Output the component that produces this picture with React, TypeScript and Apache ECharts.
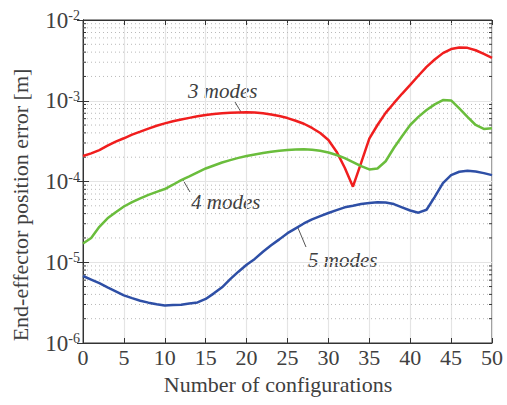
import React, { useEffect, useRef } from "react";
import * as echarts from "echarts";

// Number of configurations (x)
const configs: number[] = Array.from({ length: 51 }, (_, i) => i);

// End-effector position error [m] for each mode count
const err3Modes: number[] = [
  2.07e-4, 2.23e-4, 2.45e-4, 2.78e-4, 3.11e-4, 3.43e-4, 3.8e-4, 4.14e-4, 4.52e-4, 4.9e-4,
  5.25e-4, 5.56e-4, 5.86e-4, 6.14e-4, 6.41e-4, 6.67e-4, 6.84e-4, 6.98e-4, 7.1e-4, 7.16e-4,
  7.19e-4, 7.13e-4, 6.98e-4, 6.76e-4, 6.46e-4, 6.1e-4, 5.66e-4, 5.19e-4, 4.6e-4, 3.98e-4,
  3.27e-4, 2.34e-4, 1.48e-4, 8.63e-5, 1.7e-4, 3.39e-4, 5.01e-4, 7.08e-4, 9.33e-4, 1.22e-3,
  1.57e-3, 2.04e-3, 2.63e-3, 3.24e-3, 3.89e-3, 4.37e-3, 4.57e-3, 4.52e-3, 4.22e-3, 3.8e-3,
  3.39e-3,
];

const err4Modes: number[] = [
  1.71e-5, 2.0e-5, 2.75e-5, 3.5e-5, 4.17e-5, 4.9e-5, 5.56e-5, 6.17e-5, 6.84e-5, 7.45e-5,
  8.07e-5, 9.12e-5, 1.04e-4, 1.16e-4, 1.3e-4, 1.45e-4, 1.58e-4, 1.72e-4, 1.84e-4, 1.96e-4,
  2.07e-4, 2.16e-4, 2.25e-4, 2.33e-4, 2.4e-4, 2.45e-4, 2.49e-4, 2.51e-4, 2.48e-4, 2.4e-4,
  2.29e-4, 2.13e-4, 1.95e-4, 1.74e-4, 1.55e-4, 1.41e-4, 1.45e-4, 1.78e-4, 2.6e-4, 3.63e-4,
  5.01e-4, 6.31e-4, 7.67e-4, 9.02e-4, 1.02e-3, 1.01e-3, 8.05e-4, 6.31e-4, 5.01e-4, 4.47e-4,
  4.57e-4,
];

const err5Modes: number[] = [
  6.76e-6, 6.1e-6, 5.5e-6, 4.9e-6, 4.37e-6, 3.89e-6, 3.59e-6, 3.34e-6, 3.16e-6, 3.02e-6,
  2.92e-6, 2.95e-6, 2.98e-6, 3.08e-6, 3.18e-6, 3.51e-6, 4.12e-6, 4.9e-6, 6.17e-6, 7.64e-6,
  9.33e-6, 1.1e-5, 1.35e-5, 1.62e-5, 1.92e-5, 2.29e-5, 2.63e-5, 3.02e-5, 3.39e-5, 3.72e-5,
  4.07e-5, 4.42e-5, 4.79e-5, 5.01e-5, 5.25e-5, 5.43e-5, 5.52e-5, 5.5e-5, 5.25e-5, 4.79e-5,
  4.37e-5, 4.11e-5, 4.47e-5, 6.46e-5, 9.55e-5, 1.2e-4, 1.32e-4, 1.36e-4, 1.33e-4, 1.27e-4,
  1.2e-4,
];

const seriesNames: string[] = ["3 modes", "4 modes", "5 modes"];
const seriesColors: string[] = ["#f01e1e", "#6abd3c", "#2e4fa6"];

// Log-axis range and minor tick positions (2..9 within each decade)
const yMin = 1e-6;
const yMax = 1e-2;
const minorTickValues: number[] = [];
for (let d = -6; d <= -3; d++) {
  for (let k = 2; k <= 9; k++) minorTickValues.push(k * Math.pow(10, d));
}

const SERIF = "'Liberation Serif', 'DejaVu Serif', serif";
const TEXT_COLOR = "#404040";

export default function App() {
  const ref = useRef<HTMLDivElement>(null);

  useEffect(() => {
    if (!ref.current) return;
    const chart = echarts.init(ref.current, undefined, { renderer: "svg" });

    const lineSeries = [err3Modes, err4Modes, err5Modes].map((vals, i) => ({
      name: seriesNames[i],
      type: "line",
      xAxisIndex: 0,
      yAxisIndex: 0,
      showSymbol: false,
      symbol: "none",
      smooth: false,
      z: 5,
      lineStyle: { color: seriesColors[i], width: 2.5 },
      itemStyle: { color: seriesColors[i] },
      data: configs.map((x, j) => [x, vals[j]]),
    }));

    const option: any = {
      animation: false,
      backgroundColor: "#ffffff",
      grid: {
        left: 83,
        top: 20,
        right: 15,
        bottom: 62,
        show: true,
        borderColor: "#333",
        borderWidth: 1,
        backgroundColor: "transparent",
      },
      xAxis: [
        {
          type: "value",
          min: 0,
          max: 50,
          interval: 5,
          name: "Number of configurations",
          nameLocation: "middle",
          nameGap: 30,
          nameTextStyle: {
            fontFamily: SERIF,
            fontSize: 22,
            color: TEXT_COLOR,
            verticalAlign: "top",
            padding: [0, 19, 0, 0],
          },
          axisLine: { show: true, lineStyle: { color: "#333", width: 1 } },
          axisTick: { show: true, inside: true, length: 5, lineStyle: { color: "#333" } },
          axisLabel: { fontFamily: SERIF, fontSize: 22, color: TEXT_COLOR, margin: 3 },
          splitLine: { show: true, lineStyle: { color: "#e4e4e4", width: 1.2 } },
        },
        {
          type: "value",
          position: "top",
          min: 0,
          max: 50,
          interval: 5,
          axisLine: { show: true, lineStyle: { color: "#333", width: 1 } },
          axisTick: { show: true, inside: true, length: 5, lineStyle: { color: "#333" } },
          axisLabel: { show: false },
          splitLine: { show: false },
        },
      ],
      yAxis: [
        {
          type: "log",
          logBase: 10,
          min: yMin,
          max: yMax,
          name: "End-effector position error [m]",
          nameLocation: "middle",
          nameRotate: 90,
          nameGap: 52,
          nameTextStyle: {
            fontFamily: SERIF,
            fontSize: 22,
            color: TEXT_COLOR,
            padding: [0, 47, 0, 0],
          },
          axisLine: { show: true, lineStyle: { color: "#333", width: 1 } },
          axisTick: { show: true, inside: true, length: 6, lineStyle: { color: "#333" } },
          axisLabel: {
            margin: 3,
            formatter: (v: number) => `{b|10}{s|${Math.round(Math.log10(v))}}`,
            rich: {
              b: { fontFamily: SERIF, fontSize: 23, color: TEXT_COLOR, lineHeight: 23 },
              s: {
                fontFamily: SERIF,
                fontSize: 14,
                color: TEXT_COLOR,
                verticalAlign: "top",
                lineHeight: 14,
                padding: [0, 0, 22, 0],
              },
            },
          },
          splitLine: { show: true, lineStyle: { color: "#e4e4e4", width: 1.2 } },
        },
        {
          type: "log",
          logBase: 10,
          position: "right",
          min: yMin,
          max: yMax,
          axisLine: { show: true, lineStyle: { color: "#333", width: 1 } },
          axisTick: { show: true, inside: true, length: 6, lineStyle: { color: "#333" } },
          axisLabel: { show: false },
          splitLine: { show: false },
        },
      ],
      series: [
        {
          name: "minor grid",
          type: "custom",
          xAxisIndex: 0,
          yAxisIndex: 0,
          silent: true,
          z: 1,
          encode: { x: 0, y: 1 },
          data: minorTickValues.map((v) => [0, v]),
          renderItem: (params: any, api: any) => {
            const cs = params.coordSys;
            const y = api.coord([0, api.value(1)])[1];
            const left = cs.x;
            const right = cs.x + cs.width;
            return {
              type: "group",
              children: [
                {
                  type: "line",
                  shape: { x1: left, y1: y, x2: right, y2: y },
                  style: { stroke: "#b9b9b9", lineWidth: 1, lineDash: [1, 3] },
                },
                {
                  type: "line",
                  shape: { x1: left, y1: y, x2: left + 3, y2: y },
                  style: { stroke: "#333", lineWidth: 1 },
                },
                {
                  type: "line",
                  shape: { x1: right - 3, y1: y, x2: right, y2: y },
                  style: { stroke: "#333", lineWidth: 1 },
                },
              ],
            };
          },
        },
        ...lineSeries,
      ],
      graphic: [
        {
          type: "text",
          x: 188,
          y: 91,
          style: {
            text: "3 modes",
            font: `italic 21px ${SERIF}`,
            fill: TEXT_COLOR,
            verticalAlign: "middle",
            align: "left",
          },
        },
        {
          type: "line",
          shape: { x1: 235, y1: 102, x2: 241, y2: 112 },
          style: { stroke: "#555", lineWidth: 1 },
        },
        {
          type: "text",
          x: 191,
          y: 202,
          style: {
            text: "4 modes",
            font: `italic 21px ${SERIF}`,
            fill: TEXT_COLOR,
            verticalAlign: "middle",
            align: "left",
          },
        },
        {
          type: "line",
          shape: { x1: 183, y1: 180, x2: 190, y2: 192 },
          style: { stroke: "#555", lineWidth: 1 },
        },
        {
          type: "text",
          x: 308,
          y: 260,
          style: {
            text: "5 modes",
            font: `italic 21px ${SERIF}`,
            fill: TEXT_COLOR,
            verticalAlign: "middle",
            align: "left",
          },
        },
        {
          type: "line",
          shape: { x1: 298, y1: 228, x2: 306, y2: 247 },
          style: { stroke: "#555", lineWidth: 1 },
        },
      ],
    };

    chart.setOption(option);
    return () => chart.dispose();
  }, []);

  return (
    <div
      ref={ref}
      style={{ position: "fixed", left: 0, top: 0, width: 507, height: 405, background: "#fff" }}
    />
  );
}
